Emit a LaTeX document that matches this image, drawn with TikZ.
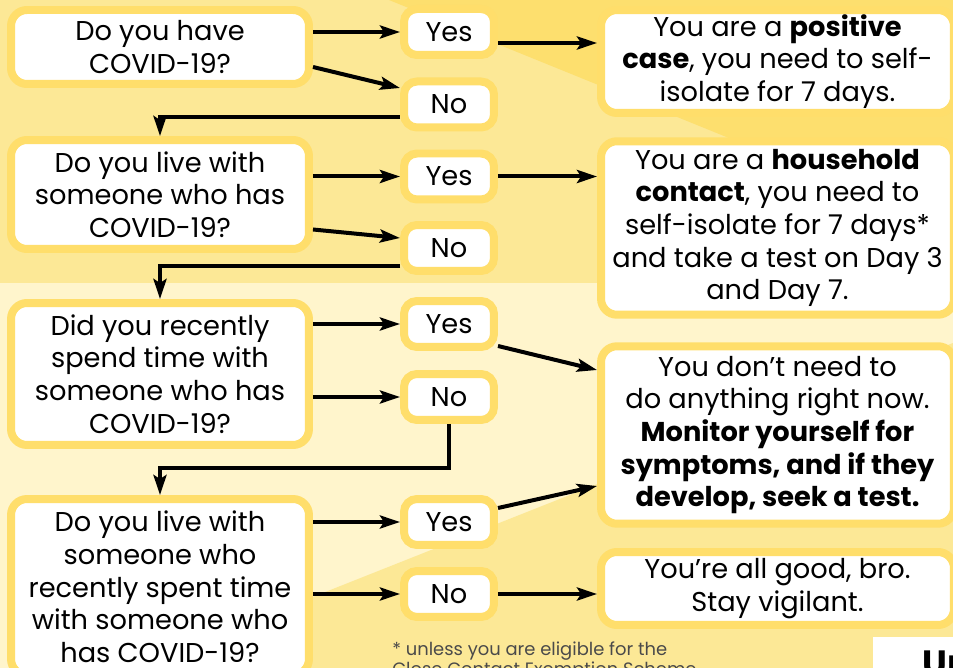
\documentclass[tikz,border=0pt]{standalone}
\usepackage{fontspec}
\setmainfont{Poppins}
\usepackage{xcolor}
\usepackage{tikz}
\usetikzlibrary{arrows.meta}

\definecolor{bandmid}{HTML}{FCE896}
\definecolor{banddark}{HTML}{FDDF6E}
\definecolor{bandpale}{HTML}{FFF5CC}
\definecolor{rimyellow}{HTML}{FFDE6B}
\definecolor{notegrey}{HTML}{4A4A4A}

\tikzset{
  question/.style={draw=rimyellow, fill=white, line width=0.16cm, rounded corners=0.32cm,
    align=center, inner sep=0pt, minimum width=5.96cm,
    font=\fontsize{15.5pt}{18.6pt}\selectfont},
  answer/.style={question, rounded corners=0.26cm, minimum width=1.8cm, minimum height=0.92cm},
  outcome/.style={question, minimum width=7.06cm},
  flow/.style={line width=0.08cm, -{Stealth[length=0.4cm,width=0.26cm,inset=0.08cm]}}
}

\begin{document}
\begin{tikzpicture}[x=0.02cm, y=-0.02cm]
  \useasboundingbox (0,0) rectangle (953,668);
  \clip (0,0) rectangle (953,668);

  % backdrop bands:
  \fill[bandmid] (0,0) rectangle (953,283);
  \fill[banddark] (389,0) -- (953,0) -- (953,229) -- cycle;
  \fill[bandpale] (0,283) rectangle (953,668);
  \fill[bandmid] (0,721) -- (953,343) -- (953,721) -- cycle;

  % the questions:
  \node[question, minimum height=1.48cm] (q1) at (160,47) {Do you have\\COVID-19?};
  \node[question, minimum height=2.18cm] (q2) at (160,194.5) {Do you live with\\someone who has\\COVID-19?};
  \node[question, minimum height=2.84cm] (q3) at (160,374) {Did you recently\\spend time with\\someone who has\\COVID-19?};
  \node[question, minimum height=3.52cm] (q4) at (160,587) {Do you live with\\someone who\\recently spent time\\with someone who\\has COVID-19?};

  % yes and no:
  \node[answer] (yes1) at (449,32) {Yes};
  \node[answer] (no1) at (449,104.5) {No};
  \node[answer] (yes2) at (449,176.5) {Yes};
  \node[answer] (no2) at (449,248) {No};
  \node[answer] (yes3) at (449,324) {Yes};
  \node[answer] (no3) at (449,397) {No};
  \node[answer] (yes4) at (449,522) {Yes};
  \node[answer] (no4) at (449,594) {No};

  % what to do:
  \node[outcome, minimum height=2.06cm] (positive) at (777.5,61.5)
    {You are a \textbf{positive}\\\textbf{case}, you need to self-\\isolate for 7 days.};
  \node[outcome, minimum height=3.47cm] (household) at (777.5,228)
    {You are a \textbf{household}\\\textbf{contact}, you need to\\self-isolate for 7 days*\\and take a test on Day 3\\and Day 7.};
  \node[outcome, minimum height=3.55cm] (monitor) at (777.5,435)
    {You don’t need to\\do anything right now.\\\textbf{Monitor yourself for}\\\textbf{symptoms, and if they}\\\textbf{develop, seek a test.}};
  \node[outcome, minimum height=1.46cm] (allgood) at (777.5,588.5)
    {You’re all good, bro.\\Stay vigilant.};

  % arrows:
  \draw[flow] (yes1 -| q1.east) -- (yes1.west);
  \draw[flow] ([yshift=-0.4cm]q1.east) -- ([yshift=0.33cm]no1.west);
  \draw[flow] ([yshift=-0.22cm]yes1.east) -- ([yshift=-0.22cm]yes1.east -| positive.west);
  \draw[flow] ([yshift=-0.25cm]no1.west) -| (q2.north);

  \draw[flow] (yes2 -| q2.east) -- (yes2.west);
  \draw[flow] ([yshift=-0.7cm]q2.east) -- ([yshift=0.2cm]no2.west);
  \draw[flow] (yes2.east) -- (yes2.east -| household.west);
  \draw[flow] ([yshift=-0.36cm]no2.west) -| (q3.north);

  \draw[flow] (yes3 -| q3.east) -- (yes3.west);
  \draw[flow] (no3 -| q3.east) -- (no3.west);
  \draw[flow] ([yshift=-0.44cm]yes3.east) -- ([yshift=1.3cm]monitor.west);
  \draw[flow] (no3.south) -- ++(0,44) -| (q4.north);

  \draw[flow] (yes4 -| q4.east) -- (yes4.west);
  \draw[flow] (no4 -| q4.east) -- (no4.west);
  \draw[flow] ([yshift=0.28cm]yes4.east) -- ([yshift=-1.02cm]monitor.west);
  \draw[flow] (no4.east) -- (no4.east -| allgood.west);

  % footnote and corner:
  \node[anchor=north west, align=left, text=notegrey, inner sep=0pt,
    font=\fontsize{10.2pt}{10pt}\selectfont] (note) at (392,641)
    {* unless you are eligible for the\\Close Contact Exemption Scheme};
  \fill[white] (873,637) rectangle (953,668);
  \node[anchor=north west, inner sep=0pt, font=\fontsize{20pt}{20pt}\selectfont\bfseries] (badge) at (922,650) {Un};
\end{tikzpicture}
\end{document}
